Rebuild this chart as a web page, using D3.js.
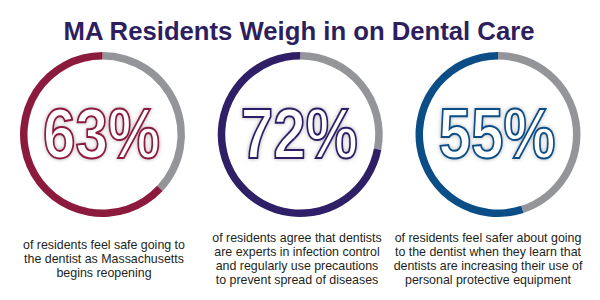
<!DOCTYPE html>
<html>
<head>
<meta charset="utf-8">
<script src="https://cdn.jsdelivr.net/npm/d3@7"></script>
<style>
  body { margin: 0; background: #fff; }
  svg { display: block; }
</style>
</head>
<body>
<div id="chart"></div>
<script>
const title = 'MA Residents Weigh in on Dental Care'
const categories = ['safe', 'experts', 'ppe']
const values = [63, 72, 55]
const colors = ['#8c1a3d', '#2f1f66', '#0b4d86']
const captions = [
  ['of residents feel safe going to', 'the dentist as Massachusetts', 'begins reopening'],
  ['of residents agree that dentists', 'are experts in infection control', 'and regularly use precautions', 'to prevent spread of diseases'],
  ['of residents feel safer about going', 'to the dentist when they learn that', 'dentists are increasing their use of', 'personal protective equipment']
]

const width = 600
const height = 300
const outerR = 82.5
const innerR = 75
const cy = 134.5

const svg = d3.select('#chart').append('svg')
  .attr('width', width)
  .attr('height', height)

// --- soft glow behind the big numbers ---
const defs = svg.append('defs')
const f = defs.append('filter').attr('id', 'glow')
  .attr('x', '-10%').attr('y', '-15%').attr('width', '120%').attr('height', '130%')
f.append('feGaussianBlur').attr('in', 'SourceAlpha').attr('stdDeviation', 2).attr('result', 'b')
f.append('feComponentTransfer').attr('in', 'b').attr('result', 'b2')
  .append('feFuncA').attr('type', 'linear').attr('slope', 0.3)
const merge = f.append('feMerge')
merge.append('feMergeNode').attr('in', 'b2')
merge.append('feMergeNode').attr('in', 'SourceGraphic')

svg.append('text')
  .attr('x', 299)
  .attr('y', 40)
  .attr('text-anchor', 'middle')
  .attr('font-family', 'Liberation Sans, Arial, sans-serif')
  .attr('font-weight', 'bold')
  .attr('font-size', 25.7)
  .attr('fill', '#2d1f5e')
  .text(title)

const x = d3.scalePoint().domain(categories).range([102.5, 498]).padding(0)
const angle = d3.scaleLinear().domain([0, 100]).range([0, 2 * Math.PI])
const arc = d3.arc().innerRadius(innerR).outerRadius(outerR)

const capX = { safe: 104, experts: 297, ppe: 488 }

const g = svg.selectAll('g.donut')
  .data(categories)
  .join('g')
    .attr('class', 'donut')
    .attr('transform', d => `translate(${x(d)},${cy})`)

// gray remainder, clockwise from top
g.append('path')
  .attr('fill', '#939598')
  .attr('d', (d, i) => arc({ startAngle: 0, endAngle: angle(100 - values[i]) }))

// coloured share, counter-clockwise from top
g.append('path')
  .attr('fill', (d, i) => colors[i])
  .attr('d', (d, i) => arc({ startAngle: angle(100 - values[i]), endAngle: angle(100) }))

g.append('text')
  .attr('x', -1)
  .attr('y', 23.5)
  .attr('text-anchor', 'middle')
  .attr('font-family', 'Liberation Sans, Arial, sans-serif')
  .attr('font-weight', 'bold')
  .attr('font-size', 70)
  .attr('textLength', 117)
  .attr('lengthAdjust', 'spacingAndGlyphs')
  .attr('fill', '#fff')
  .attr('stroke', (d, i) => colors[i])
  .attr('stroke-width', 2)
  .attr('filter', 'url(#glow)')
  .text((d, i) => values[i] + '%')

// --- captions ---
const lineH = 14
categories.forEach(function(c, i) {
  const lines = captions[i]
  const y0 = 263 - (lines.length - 1) * lineH / 2
  const t = svg.append('text')
    .attr('text-anchor', 'middle')
    .attr('font-family', 'Liberation Sans, Arial, sans-serif')
    .attr('font-size', 12.4)
    .attr('fill', '#231f20')
  lines.forEach(function(l, j) {
    t.append('tspan')
      .attr('x', capX[c])
      .attr('y', y0 + j * lineH)
      .text(l)
  })
})
</script>
</body>
</html>
